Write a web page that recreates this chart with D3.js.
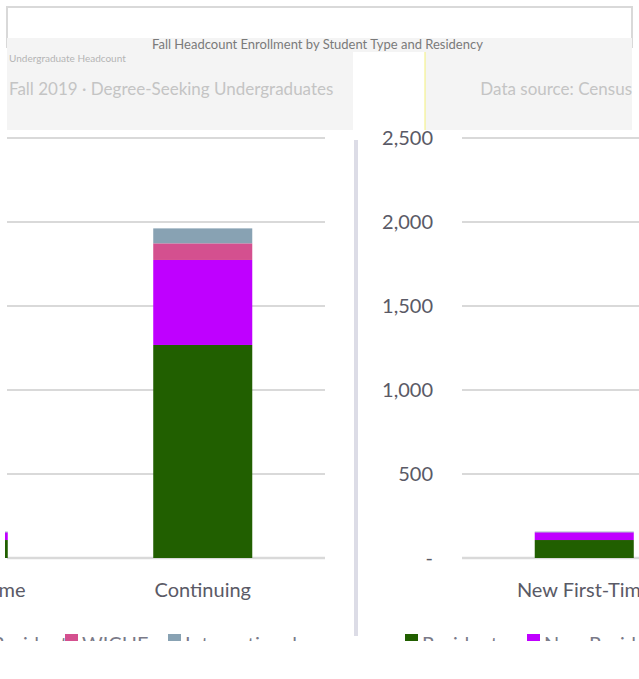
<!DOCTYPE html>
<html><head><meta charset="utf-8">
<script src="https://cdn.jsdelivr.net/npm/d3@7"></script>
<style>body{margin:0;background:#fff;overflow:hidden}svg{display:block}</style>
</head><body>
<script>
// ---- data ----
const series = ["Resident", "Non-Resident", "WICHE", "International"];
const seriesColors = ["#215f00", "#bf00ff", "#d4508f", "#88a2b3"];

const leftCategories = ["New First-Time", "Continuing"];
const leftResident = [107, 1268];
const leftNonResident = [46, 506];
const leftWICHE = [0, 99];
const leftInternational = [4, 89];

const rightCategories = ["New First-Time"];
const rightResident = [107];
const rightNonResident = [46];
const rightWICHE = [0];
const rightInternational = [4];

const yTicks = [0, 500, 1000, 1500, 2000, 2500];
const titleText = "Fall Headcount Enrollment by Student Type and Residency";
const subTitleLeft = "Fall 2019 · Degree-Seeking Undergraduates";
const subTitleRight = "Data source: Census";
const noteLeft = "Undergraduate Headcount";

// ---- drawing ----
const W = 639, H = 679;
const svg = d3.select("body").append("svg").attr("width", W).attr("height", H);
const defs = svg.append("defs");
const font = "Lato, 'Open Sans', sans-serif";
const axisColor = "#5a5a66";
const gridColor = "#d9d9d9";

// header
svg.append("rect").attr("x", 7).attr("y", 7).attr("width", 625).attr("height", 40)
  .attr("fill", "#fff").attr("stroke", "#d9d9d9").attr("stroke-width", 2);
svg.append("rect").attr("x", 7).attr("y", 38).attr("width", 625).attr("height", 14).attr("fill", "#f4f4f4");
svg.append("rect").attr("x", 7).attr("y", 52).attr("width", 346).attr("height", 78).attr("fill", "#f4f4f4");
svg.append("rect").attr("x", 425).attr("y", 52).attr("width", 207).attr("height", 78).attr("fill", "#f4f4f4");
svg.append("line").attr("x1", 425).attr("x2", 425).attr("y1", 52).attr("y2", 130)
  .attr("stroke", "#f3f07a").attr("stroke-width", 1);
svg.append("text").attr("x", 152).attr("y", 49).attr("font-family", font).attr("font-size", 13)
  .attr("fill", "#7a7a7a").text(titleText);
svg.append("text").attr("x", 9).attr("y", 62).attr("font-family", font).attr("font-size", 10)
  .attr("fill", "#b5b5b5").text(noteLeft);
svg.append("text").attr("x", 9).attr("y", 95).attr("font-family", font).attr("font-size", 17)
  .attr("fill", "#c4c4c4").text(subTitleLeft);
svg.append("text").attr("x", 632).attr("y", 95).attr("text-anchor", "end").attr("font-family", font)
  .attr("font-size", 17).attr("fill", "#c4c4c4").text(subTitleRight);

const y = d3.scaleLinear().domain([0, 2500]).range([558, 138]);

function panel(id, cats, cols, range, gx0, gx1) {
  const rows = cats.map((c, i) => {
    const r = { cat: c };
    series.forEach((s, j) => r[s] = cols[j][i]);
    return r;
  });
  defs.append("clipPath").attr("id", id).append("rect")
    .attr("x", gx0 - 2).attr("y", 0).attr("width", gx1 - gx0 + 2).attr("height", H);
  const x = d3.scaleBand().domain(cats).range(range).padding(0);
  const bw = x.bandwidth() * 0.405;
  const g = svg.append("g");
  g.selectAll("line.grid").data(yTicks).join("line")
    .attr("x1", gx0).attr("x2", gx1)
    .attr("y1", d => y(d)).attr("y2", d => y(d))
    .attr("stroke", gridColor).attr("stroke-width", d => d === 0 ? 2.5 : 2);
  const stack = d3.stack().keys(series)(rows);
  g.append("g").attr("clip-path", `url(#${id})`)
    .selectAll("g.s").data(stack).join("g")
    .attr("fill", (d, i) => seriesColors[i])
    .selectAll("rect").data(d => d).join("rect")
    .attr("x", d => x(d.data.cat) + (x.bandwidth() - bw) / 2)
    .attr("width", bw)
    .attr("y", d => y(d[1]))
    .attr("height", d => y(d[0]) - y(d[1]));
  g.selectAll("text.cat").data(cats).join("text")
    .attr("x", d => x(d) + x.bandwidth() / 2).attr("y", 597)
    .attr("text-anchor", "middle").attr("font-family", font).attr("font-size", 20)
    .attr("fill", axisColor).text(d => d);
}

panel("lp", leftCategories, [leftResident, leftNonResident, leftWICHE, leftInternational], [-164, 325], 7, 325);
panel("rp", rightCategories, [rightResident, rightNonResident, rightWICHE, rightInternational], [462, 706.5], 462, 639);

// right y axis labels
svg.append("g").selectAll("text").data(yTicks).join("text")
  .attr("x", 433).attr("y", d => y(d) + 7)
  .attr("text-anchor", "end").attr("font-family", font).attr("font-size", 20)
  .attr("fill", axisColor)
  .text(d => d === 0 ? "-" : d3.format(",")(d));

// divider
svg.append("rect").attr("x", 354).attr("y", 140).attr("width", 4).attr("height", 496).attr("fill", "#dcdce6");

// legends (clipped like the reference)
defs.append("clipPath").attr("id", "lc").append("rect").attr("x", 0).attr("y", 600).attr("width", W).attr("height", 41);
const lg = svg.append("g").attr("clip-path", "url(#lc)");
const legendItems = [
  { s: 1, x: -70 }, { s: 2, x: 65 }, { s: 3, x: 168 },
  { s: 0, x: 405 }, { s: 1, x: 527 }
];
legendItems.forEach(it => {
  lg.append("rect").attr("x", it.x).attr("y", 634).attr("width", 13).attr("height", 13)
    .attr("fill", seriesColors[it.s]);
  lg.append("text").attr("x", it.x + 17).attr("y", 651).attr("font-family", font).attr("font-size", 20)
    .attr("fill", "#7a7a88").text(series[it.s]);
});
</script>
</body></html>
